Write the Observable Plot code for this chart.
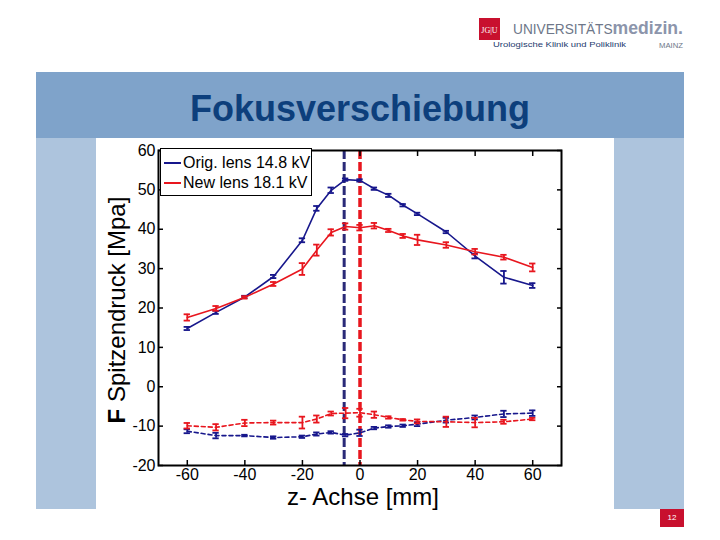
<!DOCTYPE html>
<html>
<head>
<meta charset="utf-8">
<script src="https://cdn.jsdelivr.net/npm/d3@7"></script>
<script src="https://cdn.jsdelivr.net/npm/@observablehq/plot@0.6"></script>
<style>
  html, body { margin: 0; padding: 0; background: #ffffff; }
  #slide { position: relative; width: 720px; height: 540px; overflow: hidden; font-family: "Liberation Sans", Arial, sans-serif; background: #fff; }
  .abs { position: absolute; }
  #header { left: 36px; top: 72px; width: 648px; height: 66px; background: #7fa3ca; }
  #title { left: 36px; width: 648px; top: 89px; text-align: center; font-weight: bold; font-size: 36px; color: #0d3f7c; line-height: 40px; }
  #panelL { left: 36px; top: 138px; width: 60px; height: 371px; background: #adc4dd; }
  #panelR { left: 614px; top: 138px; width: 70px; height: 371px; background: #adc4dd; }
  #chart { left: 96px; top: 138px; width: 518px; height: 371px; background: #fff; }
  #ylabel { left: 117px; top: 310px; transform: translate(-50%, -50%) rotate(-90deg); white-space: nowrap; font-size: 24px; line-height: 24px; color: #000; }
  #xlabel { left: 363px; top: 487px; transform: translateX(-50%); white-space: nowrap; font-size: 24px; line-height: 19px; color: #000; }
  #legend { left: 160px; top: 148px; width: 150px; height: 46px; border: 1.5px solid #000; background: #fff; font-size: 16px; }
  .legrow { position: absolute; left: 3px; height: 20px; line-height: 20px; white-space: nowrap; }
  .legrow span.sw { display: inline-block; width: 17px; height: 0; border-top: 2px solid; vertical-align: middle; margin-right: 2px; position: relative; top: -1px; }
  #pagenum { left: 660px; top: 509px; width: 24px; height: 18px; background: #c8102e; color: #fff; font-size: 8px; line-height: 18px; text-align: center; }
</style>
</head>
<body>
<div id="slide">
  <svg class="abs" style="left:470px;top:10px" width="230" height="45">
    <rect x="9" y="8" width="21" height="22" fill="#c8102e"/>
    <text x="19.5" y="23" text-anchor="middle" fill="#fff" font-size="8" font-family="Liberation Serif, serif">JG|U</text>
    <text x="43" y="24" fill="#6e7789" font-size="14" textLength="170" lengthAdjust="spacingAndGlyphs" font-family="Liberation Sans, Arial, sans-serif">UNIVERSITÄTS<tspan fill="#8c95ab" font-size="18" font-weight="bold">medizin.</tspan></text>
    <text x="23" y="37" fill="#1d3a6e" font-size="7" textLength="133" lengthAdjust="spacingAndGlyphs" font-family="Liberation Sans, Arial, sans-serif">Urologische Klinik und Poliklinik</text>
    <text x="189" y="38" fill="#6e7789" font-size="6.5" textLength="24" lengthAdjust="spacingAndGlyphs" font-family="Liberation Sans, Arial, sans-serif">MAINZ</text>
  </svg>
  <div id="header" class="abs"></div>
  <div id="title" class="abs">Fokusverschiebung</div>
  <div id="panelL" class="abs"></div>
  <div id="panelR" class="abs"></div>
  <div id="chart" class="abs"></div>
  <div id="ylabel" class="abs"><b>F</b> Spitzendruck [Mpa]</div>
  <div id="xlabel" class="abs">z- Achse [mm]</div>
  <div id="legend" class="abs"></div>
  <div id="pagenum" class="abs">12</div>
</div>
<script>
// ---- data ----
const zValues     = [-60, -50, -40, -30, -20, -15, -10, -5, 0, 5, 10, 15, 20, 30, 40, 50, 60];
const origPeak    = [14.8, 18.9, 22.8, 28.0, 37.2, 45.3, 49.9, 52.6, 52.4, 50.3, 48.6, 46.1, 43.9, 39.3, 33.2, 27.8, 25.7];
const origPeakErr = [0.4, 0.4, 0.3, 0.4, 0.5, 0.6, 0.7, 0.3, 0.3, 0.3, 0.4, 0.3, 0.3, 0.3, 0.6, 1.6, 0.6];
const newPeak     = [17.6, 19.9, 22.7, 26.1, 29.9, 34.7, 39.2, 40.7, 40.4, 40.9, 39.7, 38.3, 37.3, 36.0, 34.3, 32.9, 30.3];
const newPeakErr  = [0.8, 0.6, 0.3, 0.5, 1.5, 1.4, 0.8, 0.8, 0.7, 0.7, 0.4, 0.5, 1.3, 0.7, 0.7, 0.6, 1.0];
const origNeg     = [-11.3, -12.4, -12.4, -12.9, -12.7, -12.0, -11.6, -12.3, -11.7, -10.5, -10.1, -9.9, -9.5, -8.5, -7.8, -6.9, -6.7];
const origNegErr  = [0.5, 0.7, 0.2, 0.3, 0.3, 0.4, 0.3, 0.3, 0.8, 0.3, 0.3, 0.3, 0.5, 0.6, 0.5, 0.8, 0.7];
const newNeg      = [-9.9, -10.3, -9.2, -9.1, -9.1, -8.2, -6.8, -6.7, -6.6, -7.1, -7.8, -8.4, -8.8, -8.9, -9.1, -8.9, -8.2];
const newNegErr   = [0.7, 0.8, 0.8, 0.5, 1.5, 0.9, 0.5, 1.3, 1.0, 0.8, 0.3, 0.2, 0.5, 1.3, 1.2, 0.5, 0.3];
const focusOrig = -5.5;
const focusNew = 0;
const xTicks = [-60, -40, -20, 0, 20, 40, 60];
const yTicks = [-20, -10, 0, 10, 20, 30, 40, 50, 60];
const legendLabels = ["Orig. lens 14.8 kV", "New lens 18.1 kV"];

const BLUE = "#17178c";
const RED = "#e8161e";
const VBLUE = "#2a2a78";

const seriesDefs = [
  {key: "origPeak", vals: origPeak, errs: origPeakErr, color: BLUE, dash: null},
  {key: "newPeak", vals: newPeak, errs: newPeakErr, color: RED, dash: null},
  {key: "origNeg", vals: origNeg, errs: origNegErr, color: BLUE, dash: "4,3"},
  {key: "newNeg", vals: newNeg, errs: newNegErr, color: RED, dash: "4,3"}
];
const rows = seriesDefs.flatMap(s => zValues.map((z, i) => ({
  series: s.key, z, v: s.vals[i], e: s.errs[i], color: s.color, dash: s.dash
})));

const capHalf = 1.1;
const marks = [
  Plot.ruleX([focusOrig], {stroke: VBLUE, strokeWidth: 3, strokeDasharray: "9,3"}),
  Plot.ruleX([focusNew], {stroke: RED, strokeWidth: 3.5, strokeDasharray: "9,3"})
];
for (const s of seriesDefs) {
  const d = rows.filter(r => r.series === s.key);
  marks.push(Plot.line(d, {x: "z", y: "v", stroke: s.color, strokeWidth: 1.6, strokeDasharray: s.dash ?? undefined}));
  marks.push(Plot.ruleX(d, {x: "z", y1: r => r.v - r.e, y2: r => r.v + r.e, stroke: s.color, strokeWidth: 1.8}));
  marks.push(Plot.ruleY(d, {y: r => r.v + r.e, x1: r => r.z - capHalf, x2: r => r.z + capHalf, stroke: s.color, strokeWidth: 1.8}));
  marks.push(Plot.ruleY(d, {y: r => r.v - r.e, x1: r => r.z - capHalf, x2: r => r.z + capHalf, stroke: s.color, strokeWidth: 1.8}));
}
const fmt = d => String(d);
marks.push(
  Plot.axisX(xTicks, {anchor: "bottom", tickSize: -5, tickPadding: 8, tickFormat: fmt, fontSize: 16, strokeWidth: 1.5}),
  Plot.axisX(xTicks, {anchor: "top", tickSize: -5, tickFormat: () => "", strokeWidth: 1.5}),
  Plot.axisY(yTicks, {anchor: "left", tickSize: -5, tickPadding: 8, tickFormat: fmt, fontSize: 16, strokeWidth: 1.5}),
  Plot.axisY(yTicks, {anchor: "right", tickSize: -5, tickFormat: () => "", strokeWidth: 1.5}),
  Plot.frame({stroke: "#000", strokeWidth: 2})
);

const chart = Plot.plot({
  width: 518,
  height: 371,
  marginLeft: 62,
  marginRight: 53,
  marginTop: 12,
  marginBottom: 44,
  style: {fontFamily: "Liberation Sans, Arial, sans-serif", color: "#000", background: "#fff", overflow: "visible"},
  x: {domain: [-70, 70], label: null},
  y: {domain: [-20, 60], label: null},
  marks
});
document.getElementById("chart").appendChild(chart);

const leg = document.getElementById("legend");
[[legendLabels[0], BLUE, 7], [legendLabels[1], RED, 27]].forEach(([t, c, top]) => {
  const r = document.createElement("div");
  r.className = "legrow";
  r.style.top = (top - 3) + "px";
  r.innerHTML = `<span class="sw" style="border-color:${c}"></span>`;
  r.appendChild(document.createTextNode(t));
  leg.appendChild(r);
});
</script>
</body>
</html>
